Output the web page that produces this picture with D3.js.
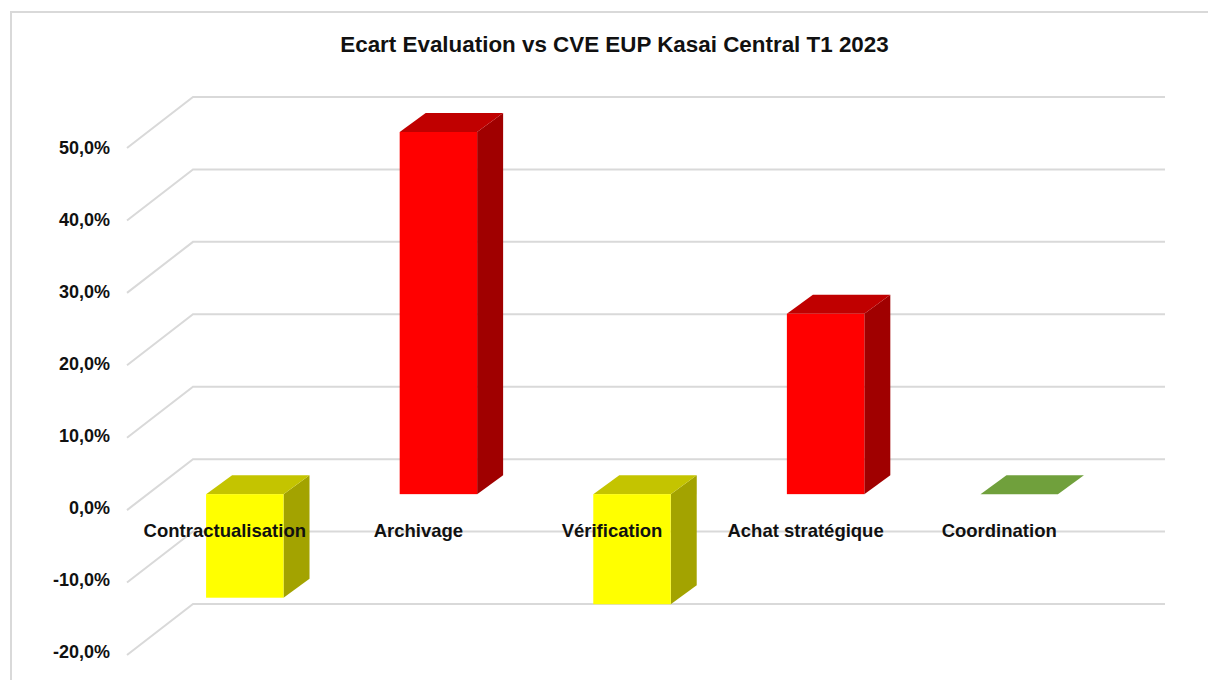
<!DOCTYPE html>
<html lang="fr">
<head>
  <meta charset="UTF-8">
  <title>Ecart Evaluation vs CVE EUP Kasai Central T1 2023</title>
  <script src="https://d3js.org/d3.v7.min.js"></script>
  <style>
    html, body { margin: 0; padding: 0; background: white; overflow: hidden; }
    svg { display: block; }
    text { font-family: "Liberation Sans", Arial, sans-serif; font-weight: bold; fill: #111; }
  </style>
</head>
<body>
  <div id="chart"></div>
  <script>
    const categories = ["Contractualisation", "Archivage", "Vérification", "Achat stratégique", "Coordination"];
    const values = [-14.3, 50, -15.2, 24.9, 0];
    const barColors = ["yellow", "red", "yellow", "red", "green"];
    const tickValues = [-20, -10, 0, 10, 20, 30, 40, 50];
    const titleText = "Ecart Evaluation vs CVE EUP Kasai Central T1 2023";

    const faces = {
      yellow: { front: "#ffff00", top: "#c4c400", side: "#a3a300" },
      red: { front: "#ff0000", top: "#c00000", side: "#a00000" },
      green: { front: "#70a03c", top: "#70a03c", side: "#70a03c" }
    };

    const width = 1208, height = 680;
    const svg = d3.select("#chart").append("svg")
      .attr("width", width)
      .attr("height", height);

    // back wall of the 3D plot
    const x = d3.scaleBand().domain(categories).range([193, 1161]).paddingInner(0.6).paddingOuter(0.3);
    const y = d3.scaleLinear().domain([-20, 50]).range([604, 97]);
    // tick labels are spaced slightly tighter than the gridlines
    const yLabel = d3.scaleLinear().domain([-20, 50]).range([658, 153.5]);

    // floor depth from back wall to front edge, bars sit part way in
    const depthX = 66, depthY = 51;
    const barDepthX = 26, barDepthY = 19;
    const frontX = d => x(d) - 45;
    const frontY = v => y(v) + 35;

    // chart frame, only top and left show in the crop
    svg.append("path")
      .attr("d", d3.line()([[11, height], [11, 12], [width, 12]]))
      .attr("fill", "none")
      .attr("stroke", "#d9d9d9")
      .attr("stroke-width", 2);

    // gridlines
    const grid = svg.append("g");
    grid.selectAll("path")
      .data(tickValues)
      .join("path")
      .attr("d", d => d3.line()([[193 - depthX, y(d) + depthY], [193, y(d)], [1165, y(d)]]))
      .attr("fill", "none")
      .attr("stroke", "#d9d9d9")
      .attr("stroke-width", 2);

    // y tick labels
    svg.append("g").selectAll("text")
      .data(tickValues)
      .join("text")
      .attr("x", 110)
      .attr("y", d => yLabel(d))
      .attr("text-anchor", "end")
      .attr("font-size", 18)
      .text(d => d.toFixed(1).replace(".", ",") + "%");

    // bars: side and top faces first, front on top
    const bars = svg.append("g").selectAll("g")
      .data(categories.map((c, i) => ({ c, v: values[i], col: faces[barColors[i]] })))
      .join("g");

    const w = x.bandwidth();
    bars.filter(d => d.v !== 0).append("path")
      .attr("fill", d => d.col.side)
      .attr("d", d => {
        const xr = frontX(d.c) + w;
        const a = frontY(d.v), b = frontY(0);
        return d3.line()([[xr, a], [xr + barDepthX, a - barDepthY], [xr + barDepthX, b - barDepthY], [xr, b]]) + "Z";
      });
    bars.append("path")
      .attr("fill", d => d.col.top)
      .attr("d", d => {
        const xl = frontX(d.c);
        const t = frontY(Math.max(d.v, 0));
        return d3.line()([[xl, t], [xl + barDepthX, t - barDepthY], [xl + w + barDepthX, t - barDepthY], [xl + w, t]]) + "Z";
      });
    bars.filter(d => d.v !== 0).append("rect")
      .attr("fill", d => d.col.front)
      .attr("x", d => frontX(d.c))
      .attr("y", d => frontY(Math.max(d.v, 0)))
      .attr("width", w)
      .attr("height", d => Math.abs(frontY(d.v) - frontY(0)));

    // category labels sit over the bars
    svg.append("g").selectAll("text")
      .data(categories)
      .join("text")
      .attr("x", d => frontX(d) + w / 2 - 20)
      .attr("y", 537)
      .attr("text-anchor", "middle")
      .attr("font-size", 18.5)
      .text(d => d);

    svg.append("text")
      .attr("x", 614.5)
      .attr("y", 52)
      .attr("text-anchor", "middle")
      .attr("font-size", 22.4)
      .text(titleText);
  </script>
</body>
</html>
